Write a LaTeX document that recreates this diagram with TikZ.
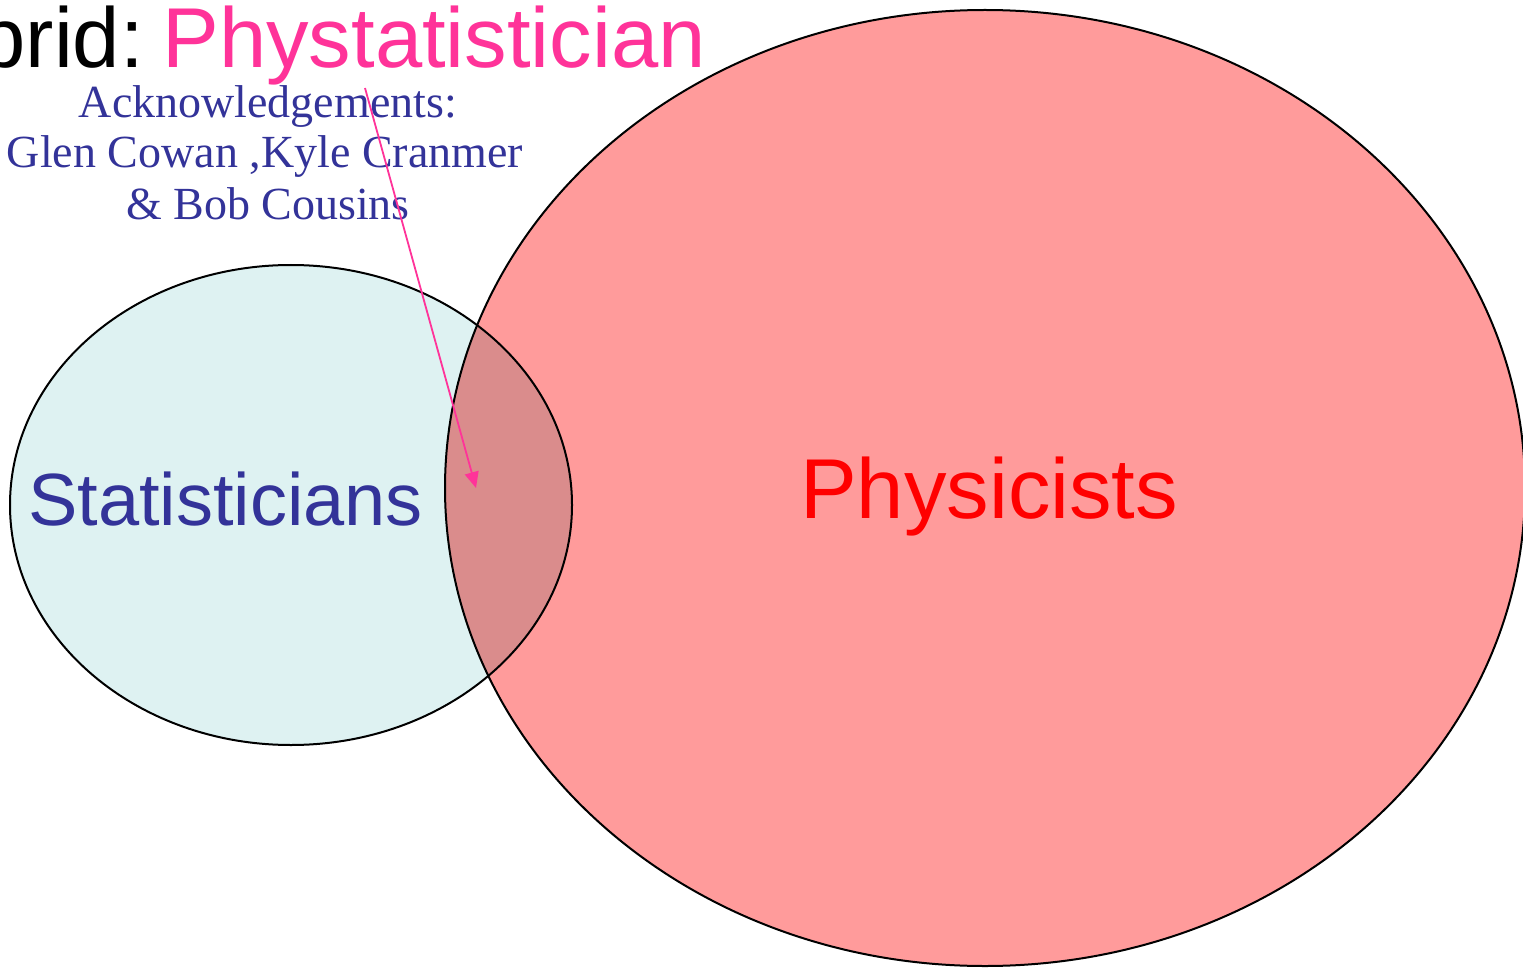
\documentclass[tikz,border=0pt]{standalone}
\usepackage{fontspec}
\setmainfont{Liberation Sans}
\newfontfamily\ackfont{Liberation Serif}
\usetikzlibrary{arrows.meta}
\definecolor{titlepink}{RGB}{255,51,153}
\definecolor{ackblue}{RGB}{51,51,153}
\definecolor{statblue}{RGB}{51,51,153}
\definecolor{physred}{RGB}{255,0,0}
\definecolor{cyanfill}{RGB}{222,242,242}
\definecolor{redfill}{RGB}{255,155,155}
\definecolor{overlapfill}{RGB}{218,140,140}
\begin{document}
\begin{tikzpicture}[x=1pt,y=-1pt,
  outline/.style={draw=black,line width=2pt},
  acktext/.style={font=\ackfont\fontsize{46}{52}\selectfont,text=ackblue,anchor=base,inner sep=0pt},
  pointer/.style={draw=titlepink,line width=1.8pt,-{Triangle[length=16pt,width=14pt]}}]
\useasboundingbox (0,0) rectangle (1523,968);
% ellipses
\fill[cyanfill] (291,505) ellipse [x radius=281,y radius=240];
\fill[redfill] (985,488) ellipse [x radius=540,y radius=478];
\begin{scope}
  \clip (291,505) ellipse [x radius=281,y radius=240];
  \fill[overlapfill] (985,488) ellipse [x radius=540,y radius=478];
\end{scope}
\draw[outline] (291,505) ellipse [x radius=281,y radius=240];
\draw[outline] (985,488) ellipse [x radius=540,y radius=478];
% title
\node[anchor=base east,inner sep=0pt,font=\fontsize{85}{90}\selectfont] (title) at (706,68)
  {Hybrid:\hspace{0.22em}\textcolor{titlepink}{Phystatistician}};
% acknowledgements
\node[acktext] (ack1) at (268,118) {Acknowledgements:};
\node[acktext] (ack2) at (265,168) {Glen Cowan ,Kyle Cranmer};
\node[acktext] (ack3) at (268,220) {\& Bob Cousins};
% labels
\node[anchor=base west,inner sep=0pt,text=statblue,font=\fontsize{74}{80}\selectfont] (stat) at (28,525) {Statisticians};
\node[anchor=base west,inner sep=0pt,text=physred,font=\fontsize{85}{90}\selectfont] (phys) at (800,518) {Physicists};
% arrow
\coordinate (arrstart) at (365,88);
\coordinate (arrtip) at (476,488);
\draw[pointer] (arrstart) -- (arrtip);
\end{tikzpicture}
\end{document}
